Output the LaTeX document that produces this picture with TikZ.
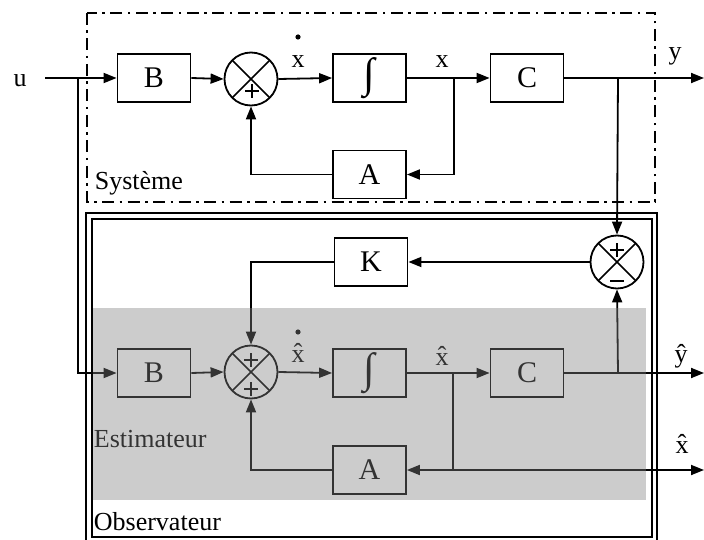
\documentclass[tikz,border=0pt]{standalone}
\usepackage{fontspec}
\setmainfont{Liberation Serif}
\usetikzlibrary{arrows.meta}
\begin{document}
\begin{tikzpicture}[x=1pt,y=-1pt, line width=1.8pt, line join=miter,
  >={Triangle[length=13pt,width=10pt]},
  blk/.style={draw, minimum width=73pt, minimum height=48pt, inner sep=0pt, font=\fontsize{30}{32}\selectfont},
  intg/.style={blk, font=\fontsize{42}{44}\selectfont},
  sumj/.style={draw, circle, minimum size=53pt, inner sep=0pt,
    path picture={\draw[line width=1.5pt] (path picture bounding box.north west)--(path picture bounding box.south east)
       (path picture bounding box.north east)--(path picture bounding box.south west);}},
  lbl/.style={font=\fontsize{26}{28}\selectfont, inner sep=0pt, anchor=base},
  sgn/.style={line width=1.2pt}]
\useasboundingbox (0,0) rectangle (704,540);

% frames
\draw[line width=2.2pt, dash pattern=on 12pt off 5.5pt on 2.5pt off 5.5pt] (87,13) rectangle (655,202);
\draw[line width=2.2pt] (86,213) rectangle (657,543);
\draw[line width=2pt] (92,219) rectangle (652,537);

% system
\node[lbl] (u) at (20,87) {u};
\coordinate (u0) at (45,78);
\coordinate (uj) at (78,78);
\node[blk] (B1) at (154,78) {B};
\node[sumj] (S1) at (251,79) {};
\node[intg] (I1) at (369.5,78) {∫};
\node[blk] (C1) at (527,78) {C};
\node[blk] (A1) at (369.5,174.5) {A};
\coordinate (xj) at (454,78);
\coordinate (yj) at (618,78);
\coordinate (yout) at (704,78);

\draw[->] (u0) -- (B1.west);
\draw[->] (B1.east) -- (S1.west);
\draw[->] (S1.east) -- (I1.west);
\draw[->] (I1.east) -- (C1.west);
\draw[->] (C1.east) -- (yout);
\draw[->] (xj) |- (A1.east);
\draw[->] (A1.west) -| (S1.south);
\draw[sgn] (245,91) -- (259,91) (252,84) -- (252,98);

\node[lbl] (xd) at (298,68) {x};
\fill (298,37) circle (2.6pt);
\node[lbl] (xl) at (442,68) {x};
\node[lbl] (yl) at (675,60) {y};
\node[lbl, anchor=base west] (sys) at (94,190) {Système};

% observer
\node[blk] (K) at (371,262) {K};
\node[sumj] (S3) at (617,262) {};
\node[blk] (B2) at (154,373) {B};
\node[sumj] (S2) at (251,372) {};
\node[intg] (I2) at (369.5,373) {∫};
\node[blk] (C2) at (527,373) {C};
\node[blk] (A2) at (369.5,470) {A};
\coordinate (xhj) at (453,373);
\coordinate (xhj2) at (453,470);
\coordinate (yhj) at (618,373);
\coordinate (yhout) at (704,373);
\coordinate (xhout) at (704,470);

\draw[->] (uj) |- (B2.west);
\draw[->] (yj) -- (S3.north);
\draw[->] (S3.west) -- (K.east);
\draw[->] (K.west) -| (S2.north);
\draw[->] (B2.east) -- (S2.west);
\draw[->] (S2.east) -- (I2.west);
\draw[->] (I2.east) -- (C2.west);
\draw[->] (C2.east) -- (yhout);
\draw[->] (yhj) -- (S3.south);
\draw (xhj) -- (xhj2);
\draw[->] (xhj2) -- (A2.east);
\draw[->] (xhj2) -- (xhout);
\draw[->] (A2.west) -| (S2.south);

\draw[sgn] (244,360) -- (258,360) (251,353) -- (251,367);
\draw[sgn] (244,389) -- (258,389) (251,382) -- (251,396);
\draw[sgn] (610,250) -- (624,250) (617,243) -- (617,257);
\draw[sgn] (610,281) -- (624,281);

\node[lbl] (xhd) at (298,362) {\^{x}};
\fill (298,332) circle (2.6pt);
\node[lbl] (xhl) at (442,365) {\^{x}};
\node[lbl] (yhl) at (681,362) {\^{y}};
\node[lbl] (xhr) at (682,453) {\^{x}};
\node[lbl, anchor=base west] (est) at (93,447) {Estimateur};
\node[lbl, anchor=base west] (obs) at (93,530) {Observateur};

% grey estimator overlay
\fill[black!50, fill opacity=0.4] (93,308) rectangle (646,500);
\end{tikzpicture}
\end{document}
